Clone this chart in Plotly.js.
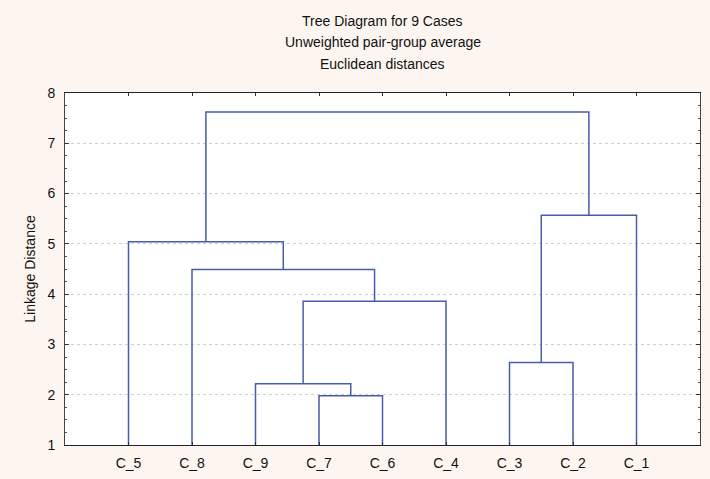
<!DOCTYPE html>
<html>
<head>
<meta charset="utf-8">
<script src="https://cdn.plot.ly/plotly-3.0.1.min.js"></script>
<style>html,body{margin:0;padding:0;background:#fdf6f0;}</style>
</head>
<body>
<div id="chart" style="width:710px;height:479px;"></div>
<script>
// Leaf order along the x axis
const leafLabels = ['C_5','C_8','C_9','C_7','C_6','C_4','C_3','C_2','C_1'];
// Linkage: cluster ids 0..8 are leaves (display order), 9.. are merges in order
const mergeLeft  = [3, 2, 6, 10, 1, 0, 11, 14];
const mergeRight = [4, 9, 7, 5, 12, 13, 8, 15];
const mergeDist  = [1.98, 2.22, 2.64, 3.86, 4.49, 5.04, 5.57, 7.62];
const baseLevel = 1;
const yTicks = [1,2,3,4,5,6,7,8];
const titleLines = ['Tree Diagram for 9 Cases','Unweighted pair-group average','Euclidean distances'];

// position and height of every cluster
const posX = leafLabels.map((_, i) => i);
const posY = leafLabels.map(() => baseLevel);
const xs = [], ys = [];
for (let k = 0; k < mergeDist.length; k++) {
  const a = mergeLeft[k], b = mergeRight[k], d = mergeDist[k];
  xs.push(posX[a], posX[a], posX[b], posX[b], null);
  ys.push(posY[a], d, d, posY[b], null);
  posX.push((posX[a] + posX[b]) / 2);
  posY.push(d);
}

const font = {family: 'Liberation Sans, Arial, sans-serif', size: 14, color: '#111'};
const trace = {
  x: xs, y: ys, mode: 'lines', type: 'scatter',
  line: {color: 'rgb(72,92,172)', width: 1.5},
  hoverinfo: 'skip', showlegend: false
};

const annotations = titleLines.map((t, i) => ({
  text: t, xref: 'paper', yref: 'paper', x: 0.5, xanchor: 'center',
  y: 1 + (93 - (21 + 21.5 * i)) / 352, yanchor: 'middle',
  showarrow: false, font: font
}));

const layout = {
  width: 710, height: 479,
  paper_bgcolor: '#fdf6f0', plot_bgcolor: '#ffffff',
  margin: {l: 65, r: 10, t: 93, b: 34, pad: 0},
  font: font,
  annotations: annotations,
  xaxis: {
    range: [-1, 9], tickmode: 'array', tickvals: posX.slice(0, leafLabels.length),
    ticktext: leafLabels, ticks: 'inside', ticklen: 3, tickcolor: '#333',
    showline: true, linecolor: '#222', linewidth: 1, mirror: 'ticks',
    showgrid: false, zeroline: false, ticklabelstandoff: 5
  },
  yaxis: {
    range: [1, 8], tickmode: 'array', tickvals: yTicks,
    ticks: 'inside', ticklen: 4, tickcolor: '#333',
    minor: {dtick: 0.25, ticks: 'inside', ticklen: 2, tickcolor: '#555', showgrid: false},
    showline: true, linecolor: '#444', linewidth: 1, mirror: 'ticks',
    showgrid: true, gridcolor: '#cfcfcf', griddash: 'dot', gridwidth: 1,
    zeroline: false, ticklabelstandoff: 6,
    title: {text: 'Linkage Distance', font: font, standoff: 8}
  }
};
Plotly.newPlot('chart', [trace], layout, {staticPlot: true, displayModeBar: false});
</script>
</body>
</html>
